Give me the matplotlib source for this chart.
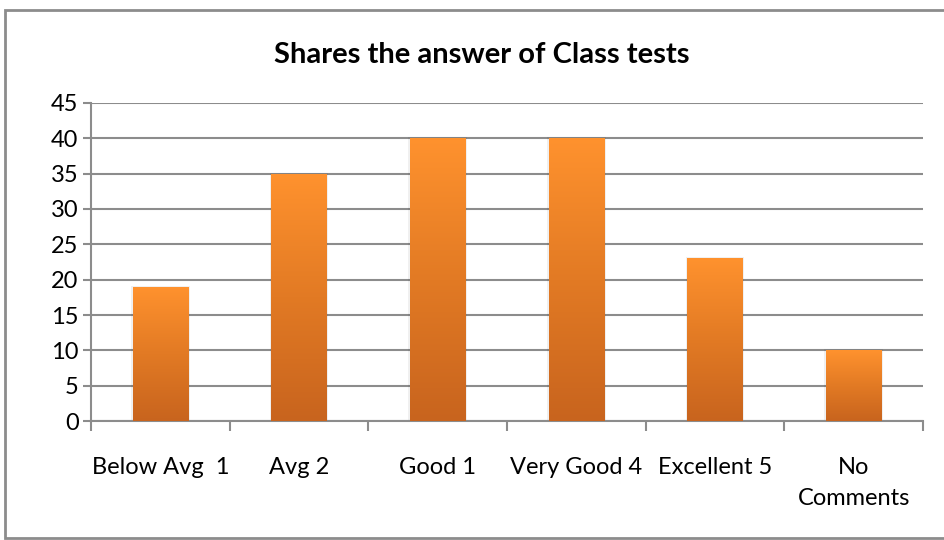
import matplotlib
matplotlib.use("Agg")
import matplotlib.pyplot as plt
import numpy as np
from matplotlib.colors import LinearSegmentedColormap
from matplotlib.patches import Rectangle

categories = ["Below Avg  1", "Avg 2", "Good 1", "Very Good 4", "Excellent 5", "No\nComments"]
values = [19, 35, 40, 40, 23, 10]
yticks = [0, 5, 10, 15, 20, 25, 30, 35, 40, 45]
title = "Shares the answer of Class tests"

plt.rcParams['font.family'] = ['Lato', 'DejaVu Sans']

fig = plt.figure(figsize=(9.44, 5.4), dpi=100)
W, H = 944, 540
# outer frame
fig.patches.append(Rectangle((5 / W, 2 / H), 940 / W, (528) / H, transform=fig.transFigure,
                             fill=False, edgecolor="#8c8c8c", linewidth=2))

ax = fig.add_axes([91 / W, (H - 421) / H, (923 - 91) / W, (421 - 103) / H])
ax.set_xlim(-0.5, len(categories) - 0.5)
ax.set_ylim(0, 45)

cmap = LinearSegmentedColormap.from_list("og", ["#c8641e", "#e27a24", "#ff922e"])
grad = np.linspace(0, 1, 256).reshape(-1, 1)
width = 0.4
bars = ax.bar(range(len(values)), values, width=width, color="none", zorder=3)
for b in bars:
    x0, y0 = b.get_x(), b.get_y()
    w, h = b.get_width(), b.get_height()
    # soft shadow
    ax.add_patch(Rectangle((x0 - 0.012, y0), w + 0.024, h + 0.15, facecolor="#000000",
                           alpha=0.06, edgecolor="none", zorder=2.5))
    im = ax.imshow(grad, extent=(x0, x0 + w, y0, y0 + h), origin="lower", aspect="auto",
                   cmap=cmap, zorder=3, interpolation="bilinear")
    im.set_clip_path(b)

ax.set_xlim(-0.5, len(categories) - 0.5)
ax.set_ylim(0, 45)
ax.set_yticks(yticks)
ax.yaxis.grid(True, color="#8c8c8c", linewidth=1.5, zorder=0)
ax.set_axisbelow(True)

ax.set_xticks(range(len(categories)))
ax.set_xticklabels(categories, fontsize=17, linespacing=1.6)
ax.set_xticks(np.arange(-0.5, len(categories), 1.0), minor=True)
ax.tick_params(axis="x", which="major", length=0, pad=26)
ax.tick_params(axis="x", which="minor", length=7, width=1.5, color="#8c8c8c", direction="out")
ax.tick_params(axis="y", length=6, width=1.5, color="#8c8c8c", labelsize=17, pad=3)

for s in ["top", "right"]:
    ax.spines[s].set_visible(False)
for s in ["left", "bottom"]:
    ax.spines[s].set_color("#8c8c8c")
    ax.spines[s].set_linewidth(1.5)

fig.text(482 / W, 1 - 55 / H, title, ha="center", va="center", fontsize=21, fontweight="bold")

fig.savefig("out.png", dpi=100)
